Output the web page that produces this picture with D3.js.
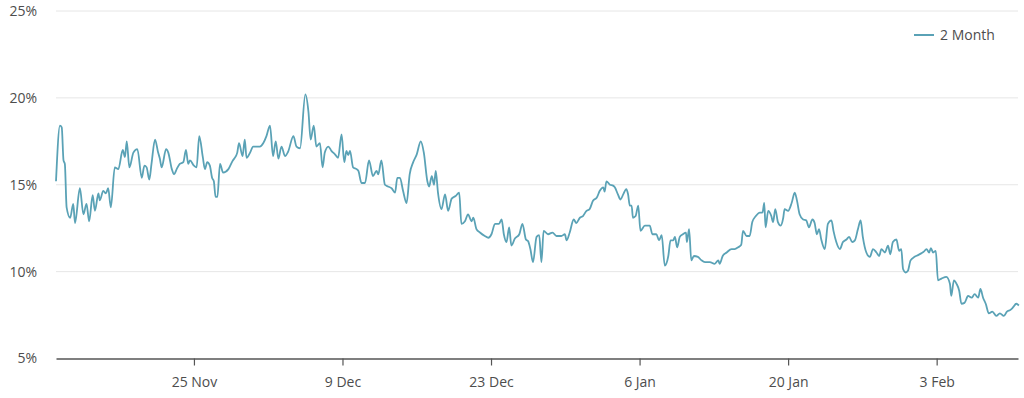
<!DOCTYPE html>
<html><head><meta charset="utf-8">
<script src="https://cdn.jsdelivr.net/npm/d3@7"></script>
<style>
html,body{margin:0;padding:0;background:#fff;}
svg{display:block;font-family:"Open Sans",sans-serif;}
</style></head>
<body><svg id="c" width="1024" height="398"></svg>
<script>
// Series start (hour offsets are relative to this)
const startDate = "2018-11-12T00:00";
const seriesName = "2 Month";
const hourOffsets = [0,9,13,17,20,24,32,39,43,54,62,69,75,83,88,96,99,107,113,118,124,133,141,151,156,160,166,175,184,194,200,205,211,216,224,231,235,239,249,254,262,267,273,280,288,294,299,303,312,318,324,332,337,342,348,353,357,361,365,371,378,390,400,403,410,414,422,427,431,439,446,454,461,469,476,484,491,497,503,510,518,525,537,544,552,564,571,576,583,589,597,603,608,616,623,631,638,646,652,657,661,665,672,680,684,691,699,708,717,725,729,736,744,751,759,767,772,778,785,793,800,808,816,825,832,840,844,850,855,859,864,872,880,887,895,904,912,917,925,932,940,944,951,959,970,978,985,993,1002,1008,1013,1019,1025,1030,1038,1048,1055,1063,1068,1073,1079,1087,1093,1098,1103,1113,1123,1132,1143,1151,1155,1162,1171,1177,1185,1192,1200,1207,1215,1223,1230,1238,1241,1245,1253,1260,1264,1271,1277,1283,1290,1294,1298,1302,1305,1311,1317,1322,1332,1343,1349,1358,1364,1370,1377,1385,1390,1396,1400,1405,1411,1418,1425,1427,1432,1437,1443,1452,1460,1468,1479,1490,1498,1501,1508,1517,1528,1535,1543,1550,1554,1562,1569,1575,1583,1592,1598,1602,1605,1611,1618,1622,1627,1633,1639,1645,1648,1656,1664,1671,1676,1682,1690,1697,1703,1711,1716,1721,1726,1731,1739,1746,1754,1759,1765,1773,1780,1788,1794,1801,1807,1814,1820,1825,1833,1841,1848,1856,1862,1867,1875,1882,1887,1893,1901,1907,1912,1916,1922,1927,1933,1942,1950,1957,1963,1969,1975,1979,1984,1990,1995,2003,2014,2022,2025,2031,2037,2043,2048,2055,2063,2071,2078,2086,2091,2097,2103,2110,2118,2127,2135,2144,2151,2159,2165,2172,2178];
const values = [15.2,18.4,18.3,16.4,16.2,13.7,13.1,13.9,12.8,14.8,13.3,13.9,12.9,14.4,13.5,14.5,14.1,14.65,14.5,14.8,13.7,16.0,15.9,17.0,16.6,17.5,16.0,16.85,17.05,15.4,16.1,16.0,15.3,16.2,17.6,16.85,16.5,16.0,17.05,16.85,15.9,15.6,15.9,16.2,16.3,17.0,16.2,16.4,16.1,16.0,17.8,16.6,15.9,16.3,16.1,15.4,15.2,14.3,14.3,16.2,15.7,15.9,16.4,16.5,16.85,17.4,16.65,17.6,16.55,16.85,17.2,17.2,17.2,17.4,17.8,18.4,16.65,17.5,16.5,17.2,16.65,16.9,17.8,17.2,17.1,20.2,19.2,17.6,18.4,17.2,17.4,16.0,16.85,17.2,16.95,16.75,16.55,17.9,16.3,16.95,16.7,16.95,16.0,15.9,15.8,15.1,15.1,16.4,15.5,15.8,15.6,16.4,15.0,14.9,14.8,14.55,15.4,15.4,14.65,13.95,15.6,16.3,16.75,17.5,16.85,15.2,14.9,15.5,15.0,15.8,14.55,13.6,14.45,13.5,14.2,14.35,14.55,12.75,12.9,13.3,12.9,13.1,12.45,12.25,12.05,11.95,12.15,12.75,12.75,13.0,12.15,11.7,12.55,11.5,11.9,12.15,12.75,11.85,11.75,11.3,10.55,12.0,12.1,10.55,12.35,12.15,12.25,12.05,12.05,12.15,11.8,12.25,13.0,12.8,13.1,13.2,13.5,13.6,14.1,14.25,14.65,14.85,14.6,15.2,15.0,14.95,14.85,14.45,14.15,14.45,14.75,14.45,13.8,13.8,13.1,13.2,13.8,12.35,12.65,12.65,12.15,12.15,11.8,12.1,10.35,10.9,11.8,11.8,12.0,11.4,12.0,12.15,12.25,11.7,12.45,10.65,10.9,10.85,10.65,10.55,10.55,10.45,10.65,10.45,10.9,11.1,11.3,11.3,11.4,11.55,12.35,12.05,12.05,12.85,13.2,13.4,13.4,13.95,12.55,13.5,13.2,12.85,13.6,12.85,12.65,13.1,13.6,13.5,13.95,14.55,14.1,13.3,13.0,12.95,12.55,13.0,12.8,12.15,12.45,11.85,11.3,12.75,12.95,12.3,11.7,11.3,11.7,11.85,12.0,11.7,11.8,12.45,12.95,12.0,11.1,10.85,11.3,11.1,10.9,11.3,11.1,11.5,11.0,11.7,11.85,11.2,11.3,10.15,9.95,10.05,10.65,10.85,10.95,11.05,11.15,11.3,11.1,11.35,11.1,11.2,9.5,9.6,9.7,9.3,8.6,9.5,9.3,8.9,8.15,8.2,8.6,8.5,8.7,8.5,9.0,8.5,8.15,7.6,7.7,7.45,7.6,7.45,7.7,7.8,7.95,8.15,8.05];
const yTicks = [5,10,15,20,25];
const xTickDates = ["2018-11-25","2018-12-09","2018-12-23","2019-01-06","2019-01-20","2019-02-03"];
const domainStart = "2018-11-12T00:00";
const domainEnd = "2019-02-10T16:00";

const mLeft = 56, mRight = 1018, mTop = 11, mBottom = 358.5;
const parse = d3.isoParse;
const t0 = parse(startDate);
const n = Math.min(hourOffsets.length, values.length);
const data = hourOffsets.slice(0,n).map((h,i)=>({t:d3.timeHour.offset(t0,h), v:values[i]}));

const x = d3.scaleTime().domain([parse(domainStart), parse(domainEnd)]).range([mLeft,mRight]);
const y = d3.scaleLinear().domain([5,25]).range([mBottom,mTop]);

const svg = d3.select("#c");
const textColor = "#4d4d4d";

// gridlines
svg.append("g").selectAll("line").data(yTicks.filter(d=>d>5)).join("line")
  .attr("x1",mLeft).attr("x2",mRight)
  .attr("y1",d=>y(d)).attr("y2",d=>y(d))
  .attr("stroke","#e6e6e6").attr("stroke-width",1);

// y labels
svg.append("g").selectAll("text").data(yTicks).join("text")
  .attr("x",37).attr("y",d=>y(d)).attr("dy","0.35em")
  .attr("text-anchor","end").attr("font-size",14).attr("fill",textColor)
  .text(d=>d+"%");

// x axis
const xAxis = d3.axisBottom(x)
  .tickValues(xTickDates.map(s=>parse(s)))
  .tickFormat(d3.timeFormat("%-d %b"))
  .tickSize(7).tickSizeOuter(0).tickPadding(12);
const gx = svg.append("g").attr("transform",`translate(0,${mBottom})`).call(xAxis);
gx.select(".domain").attr("stroke","#555").attr("stroke-width",1.5);
gx.selectAll(".tick line").attr("stroke","#555").attr("stroke-width",1.2);
gx.selectAll(".tick text").attr("font-size",14).attr("fill",textColor).attr("font-family","Open Sans, sans-serif");

// line
const line = d3.line().x(d=>x(d.t)).y(d=>y(d.v)).curve(d3.curveMonotoneX);
svg.append("path").datum(data).attr("d",line)
  .attr("fill","none").attr("stroke","#5aa2b6").attr("stroke-width",1.8)
  .attr("stroke-linejoin","round");

// legend
const lg = svg.append("g").attr("transform","translate(914,35)");
lg.append("line").attr("x1",0).attr("x2",20).attr("y1",0).attr("y2",0)
  .attr("stroke","#5aa2b6").attr("stroke-width",2);
lg.append("text").attr("x",26).attr("y",0).attr("dy","0.35em")
  .attr("font-size",14).attr("fill",textColor).text(seriesName);
</script></body></html>
